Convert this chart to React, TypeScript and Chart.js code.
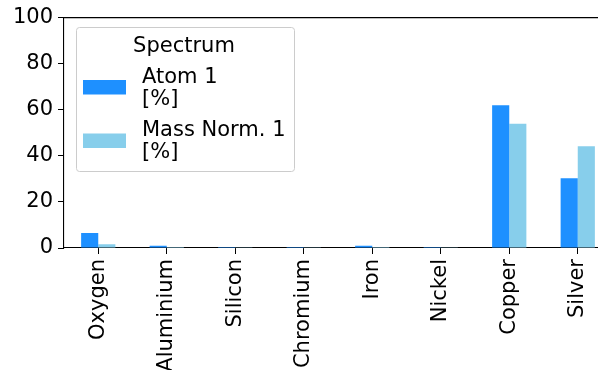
import React, { useEffect, useRef } from "react";
import { Chart, registerables } from "chart.js";

Chart.register(...registerables);

const CATEGORIES = ["Oxygen", "Aluminium", "Silicon", "Chromium", "Iron", "Nickel", "Copper", "Silver"];
const ATOM_VALUES = [6.5, 1.0, 0.4, 0.4, 1.0, 0.4, 62.0, 30.3];
const MASS_VALUES = [1.6, 0.4, 0.3, 0.3, 0.4, 0.3, 53.9, 44.2];
const SERIES_LABELS = ["Atom 1\n[%]", "Mass Norm. 1\n[%]"];
const SERIES_COLORS = ["#1E90FF", "#87CEEB"];
const LEGEND_TITLE = "Spectrum";
const Y_MIN = 0;
const Y_MAX = 100;
const Y_STEP = 20;

const FONT_FAMILY = '"DejaVu Sans", sans-serif';
const FONT_SIZE = 21;

const spinePlugin = {
  id: "topSpine",
  afterDraw(chart: any) {
    const { ctx, chartArea } = chart;
    ctx.save();
    ctx.strokeStyle = "#000";
    ctx.lineWidth = 1.1;
    ctx.beginPath();
    ctx.moveTo(chartArea.left, chartArea.top);
    ctx.lineTo(chartArea.right, chartArea.top);
    ctx.stroke();
    ctx.restore();
  },
};

const legendPlugin = {
  id: "mplLegend",
  afterDraw(chart: any) {
    const ctx = chart.ctx as CanvasRenderingContext2D;
    ctx.save();
    const bx = 76.5, by = 27.5, bw = 218, bh = 144;
    ctx.beginPath();
    (ctx as any).roundRect(bx, by, bw, bh, 3);
    ctx.fillStyle = "rgba(255,255,255,0.8)";
    ctx.fill();
    ctx.strokeStyle = "#cccccc";
    ctx.lineWidth = 1;
    ctx.stroke();

    ctx.font = `${FONT_SIZE}px ${FONT_FAMILY}`;
    ctx.fillStyle = "#000";
    ctx.textBaseline = "alphabetic";
    ctx.textAlign = "center";
    ctx.fillText(LEGEND_TITLE, 184, 51.5);

    ctx.textAlign = "left";
    chart.data.datasets.forEach((ds: any, i: number) => {
      const patchTop = 80 + i * 53.5;
      ctx.fillStyle = ds.backgroundColor;
      ctx.fillRect(83, patchTop, 43, 14.5);
      ctx.fillStyle = "#000";
      const lines = String(ds.label).split("\n");
      const firstBaseline = 82.7 + i * 53.7;
      lines.forEach((ln, j) => {
        ctx.fillText(ln, 142, firstBaseline + j * 22);
      });
    });
    ctx.restore();
  },
};

export default function App() {
  const canvasRef = useRef<HTMLCanvasElement | null>(null);

  useEffect(() => {
    const canvas = canvasRef.current;
    if (!canvas) return;
    const font = { family: FONT_FAMILY, size: FONT_SIZE };
    const chart = new Chart(canvas, {
      type: "bar",
      data: {
        labels: CATEGORIES,
        datasets: [
          {
            label: SERIES_LABELS[0],
            data: ATOM_VALUES,
            backgroundColor: SERIES_COLORS[0],
            borderWidth: 0,
            categoryPercentage: 0.5,
            barPercentage: 1.0,
          },
          {
            label: SERIES_LABELS[1],
            data: MASS_VALUES,
            backgroundColor: SERIES_COLORS[1],
            borderWidth: 0,
            categoryPercentage: 0.5,
            barPercentage: 1.0,
          },
        ],
      },
      options: {
        responsive: false,
        animation: false,
        devicePixelRatio: 1,
        layout: { padding: { top: 16, right: 8, left: 0, bottom: 0 } },
        plugins: {
          legend: { display: false },
          tooltip: { enabled: false },
          title: { display: false },
        },
        scales: {
          x: {
            type: "category",
            offset: true,
            grid: {
              display: true,
              offset: false,
              drawOnChartArea: false,
              drawTicks: true,
              tickLength: 6,
              color: "#000",
              lineWidth: 1,
            },
            border: { display: true, color: "#000", width: 1.1 },
            ticks: {
              font,
              color: "#000",
              minRotation: 90,
              maxRotation: 90,
              autoSkip: false,
              padding: 5,
            },
            afterFit(scale: any) {
              scale.height = 122;
            },
          },
          y: {
            type: "linear",
            min: Y_MIN,
            max: Y_MAX,
            grid: {
              display: true,
              drawOnChartArea: false,
              drawTicks: true,
              tickLength: 6,
              color: "#000",
              lineWidth: 1,
            },
            border: { display: true, color: "#000", width: 1.1 },
            ticks: {
              font,
              color: "#000",
              stepSize: Y_STEP,
              padding: 5,
            },
            afterFit(scale: any) {
              scale.width = 64;
            },
          },
        },
      },
      plugins: [spinePlugin, legendPlugin],
    });
    return () => chart.destroy();
  }, []);

  return (
    <div
      style={{
        position: "fixed",
        left: 0,
        top: 0,
        width: 598,
        height: 370,
        overflow: "hidden",
        background: "#fff",
      }}
    >
      <canvas ref={canvasRef} width={620} height={370} style={{ display: "block" }} />
    </div>
  );
}
